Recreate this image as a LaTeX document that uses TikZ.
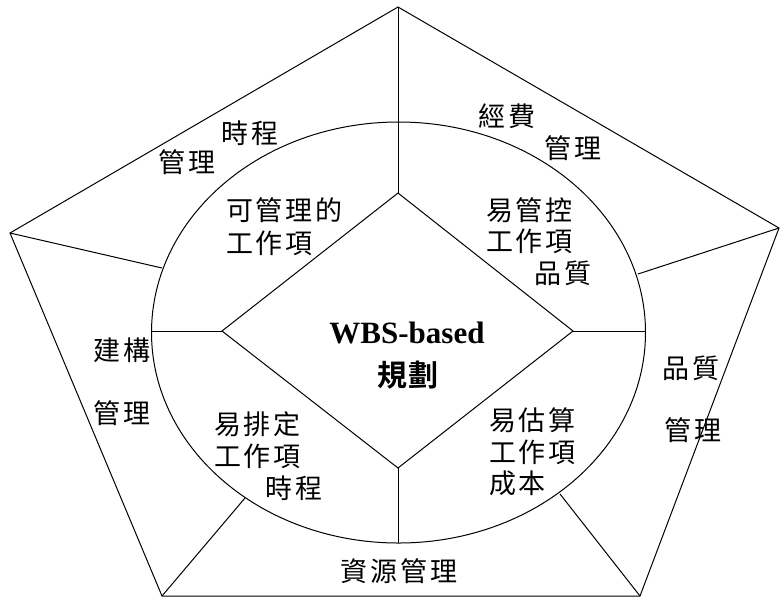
\documentclass[tikz,border=0pt]{standalone}
\usepackage{fontspec}
\setmainfont{Liberation Serif}
\newfontfamily\cjk[LetterSpace=10]{Noto Sans CJK TC}
\newfontfamily\cjkb[LetterSpace=3]{Noto Sans CJK TC Bold}
\usetikzlibrary{shapes.geometric}
\begin{document}
\begin{tikzpicture}[x=1pt,y=-1pt,
  ln/.style={line width=1pt,black},
  lab/.style={inner sep=0pt,font=\cjk\fontsize{27}{30}\selectfont},
  title/.style={inner sep=0pt,font=\bfseries\fontsize{31}{36}\selectfont}]
\useasboundingbox (0,0) rectangle (781,598);
% pentagon vertices
\coordinate (P1) at (398,7);
\coordinate (P2) at (779,228);
\coordinate (P3) at (640,596);
\coordinate (P4) at (162,596);
\coordinate (P5) at (10,233);
\draw[ln,line join=miter] (P1) -- (P2) -- (P3) -- (P4) -- (P5) -- cycle;
% ellipse
\node[ln,draw,ellipse,inner sep=0pt,outer sep=0pt,minimum width=494pt,minimum height=421pt] (E) at (398.5,332.5) {};
% diamond
\coordinate (D1) at (398,193);
\coordinate (D2) at (573,331);
\coordinate (D3) at (398,468);
\coordinate (D4) at (222,331);
\draw[ln] (D1) -- (D2) -- (D3) -- (D4) -- cycle;
% ellipse points
\coordinate (EL) at (152,331);
\coordinate (ER) at (645,331);
\coordinate (EB) at (398,543);
\coordinate (S5) at (162,268);
\coordinate (S2) at (638,274);
\coordinate (S4) at (245,498);
\coordinate (S3) at (560,494);
\draw[ln] (P1) -- (D1);
\draw[ln] (D4) -- (EL);
\draw[ln] (D2) -- (ER);
\draw[ln] (D3) -- (EB);
\draw[ln] (P5) -- (S5);
\draw[ln] (P2) -- (S2);
\draw[ln] (P4) -- (S4);
\draw[ln] (P3) -- (S3);
% labels
\node[lab] (t1) at (250,133) {時程};
\node[lab] (t2) at (187,162) {管理};
\node[lab,anchor=west] (t3) at (226,210) {可管理的};
\node[lab,anchor=west] (t4) at (226,243) {工作項};
\node[lab] (t5) at (507,116) {經費};
\node[lab] (t6) at (573,148) {管理};
\node[lab,anchor=west] (t7) at (486,210) {易管控};
\node[lab,anchor=west] (t8) at (486,241) {工作項};
\node[lab] (t9) at (563,273) {品質};
\node[title,anchor=base] (w1) at (407,343) {WBS-based};
\node[inner sep=0pt,font=\cjkb\fontsize{30}{32}\selectfont] (w2) at (408,375) {規劃};
\node[lab] (t10) at (122,350) {建構};
\node[lab] (t11) at (122,413) {管理};
\node[lab,anchor=west] (t12) at (214,424) {易排定};
\node[lab,anchor=west] (t13) at (214,456) {工作項};
\node[lab] (t14) at (294,488) {時程};
\node[lab] (t15) at (399,571) {資源管理};
\node[lab] (t16) at (691,368) {品質};
\node[lab] (t17) at (693,430) {管理};
\node[lab,anchor=west] (t18) at (489,420) {易估算};
\node[lab,anchor=west] (t19) at (489,452) {工作項};
\node[lab,anchor=west] (t20) at (489,483) {成本};
\end{tikzpicture}
\end{document}
